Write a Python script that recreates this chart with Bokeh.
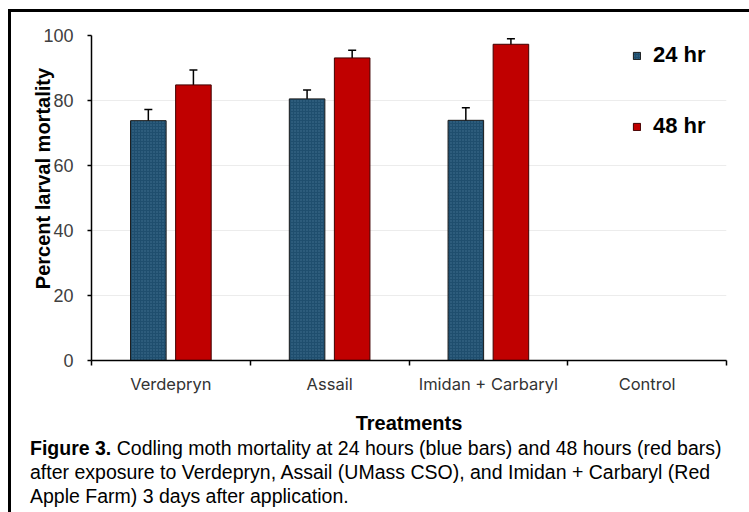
from bokeh.plotting import figure
from bokeh.layouts import column
from bokeh.models import (ColumnDataSource, FactorRange, Range1d, Whisker, TeeHead,
                          Legend, LegendItem, LinearAxis, CategoricalAxis, FixedTicker, Div)
from bokeh.transform import dodge
from bokeh.embed import file_html
from bokeh.resources import INLINE

# ---------------- data ----------------
treatments = ["Verdepryn", "Assail", "Imidan + Carbaryl", "Control"]
mort_24 = [73.8, 80.5, 73.9, None]
err_24 = [3.4, 2.7, 3.9, None]
mort_48 = [84.8, 93.1, 97.3, None]
err_48 = [4.6, 2.4, 1.7, None]
y_ticks = [0, 20, 40, 60, 80, 100]
boundary_ticks = [0, 1, 2, 3, 4]
series_labels = ["24 hr", "48 hr"]
y_title = "Percent larval  mortality"
x_title = "Treatments"
caption_bold = "Figure 3."
caption_lines = [
    " Codling moth mortality at 24 hours (blue bars) and 48 hours (red bars)",
    "after exposure to Verdepryn, Assail (UMass CSO), and Imidan + Carbaryl (Red",
    "Apple Farm) 3 days after application.",
]

BLUE = "#1f4e6e"
RED = "#c00000"
FONT = "Liberation Sans"

idx = [i for i, v in enumerate(mort_24) if v is not None]
src = ColumnDataSource(dict(
    cat=[treatments[i] for i in idx],
    m24=[mort_24[i] for i in idx],
    lo24=[mort_24[i] - err_24[i] for i in idx],
    hi24=[mort_24[i] + err_24[i] for i in idx],
    m48=[mort_48[i] for i in idx],
    lo48=[mort_48[i] - err_48[i] for i in idx],
    hi48=[mort_48[i] + err_48[i] for i in idx],
))

W = 730
p = figure(x_range=FactorRange(*treatments), y_range=Range1d(0, 100),
           width=W, height=424, output_backend="svg", toolbar_location=None,
           x_axis_type=None, min_border_left=80, min_border_right=15,
           min_border_top=23, min_border_bottom=73)
p.outline_line_color = None

# y axis
ya = p.yaxis[0]
ya.ticker = FixedTicker(ticks=y_ticks)
ya.axis_line_width = 1.5
ya.axis_line_color = "black"
ya.major_tick_line_width = 1.5
ya.major_tick_in = 0
ya.major_tick_out = 4
ya.minor_tick_line_color = None
ya.major_label_standoff = 14
ya.major_label_text_font = FONT
ya.major_label_text_font_size = "18px"
ya.major_label_text_color = "#404040"
ya.axis_label = "\u00a0" * 8 + y_title
ya.axis_label_standoff = -14
ya.axis_label_text_font = FONT
ya.axis_label_text_font_style = "bold"
ya.axis_label_text_font_size = "20px"
ya.axis_label_text_color = "black"
p.ygrid.ticker = FixedTicker(ticks=y_ticks)
p.ygrid.grid_line_color = "#ececec"

# bottom: boundary tick axis (no labels) + category label axis
ax_ticks = LinearAxis(ticker=FixedTicker(ticks=boundary_ticks),
                      major_label_text_color=None, major_label_text_font_size="1px",
                      major_label_standoff=0,
                      major_tick_in=0, major_tick_out=5, major_tick_line_width=1.5,
                      minor_tick_line_color=None, axis_line_width=1.5,
                      axis_line_color="black")
p.add_layout(ax_ticks, "below")
ax_cats = CategoricalAxis(axis_line_color=None, major_tick_line_color=None,
                          minor_tick_line_color=None, major_label_standoff=2,
                          major_label_text_font="Inter",
                          major_label_text_font_size="16.5px",
                          major_label_text_color="#333333",
                          axis_label=x_title, axis_label_standoff=15,
                          axis_label_text_font=FONT,
                          axis_label_text_font_style="bold",
                          axis_label_text_font_size="20px",
                          axis_label_text_color="black")
p.add_layout(ax_cats, "below")

# bars
off = 0.142
w = 0.224
r24 = p.vbar(x=dodge("cat", -off, range=p.x_range), top="m24", width=w, source=src,
             fill_color=BLUE, line_color="#1a1a1a", line_width=1,
             hatch_pattern=".", hatch_color="#6f9bb8", hatch_scale=3,
             hatch_alpha=0.45)
r48 = p.vbar(x=dodge("cat", off, range=p.x_range), top="m48", width=w, source=src,
             fill_color=RED, line_color="#400000", line_width=1)

for d, lo, hi in [(-off, "lo24", "hi24"), (off, "lo48", "hi48")]:
    wk = Whisker(source=src, base=dodge("cat", d, range=p.x_range), lower=lo, upper=hi,
                 line_color="black", line_width=1.5,
                 upper_head=TeeHead(size=8, line_width=1.5, line_color="black"),
                 lower_head=TeeHead(size=8, line_width=1.5, line_color="black"))
    p.add_layout(wk)

legend = Legend(items=[LegendItem(label=series_labels[0], renderers=[r24]),
                       LegendItem(label=series_labels[1], renderers=[r48])],
                location="top_right", margin=7, padding=8, spacing=45,
                glyph_width=9, glyph_height=9, label_standoff=12,
                label_width=66, label_height=25,
                label_text_font=FONT, label_text_font_style="bold",
                label_text_font_size="22px", label_text_color="black",
                border_line_color=None, background_fill_alpha=0)
p.add_layout(legend)

# caption
caption_html = (
    "<div style=\"font-family:'Liberation Sans',Arial,sans-serif;font-size:19.5px;"
    "line-height:24px;white-space:nowrap;color:black;padding-left:14px;"
    "margin-top:-5px;\">"
    f"<b>{caption_bold}</b>{caption_lines[0]}<br>{caption_lines[1]}<br>{caption_lines[2]}"
    "</div>"
)
cap = Div(text=caption_html, width=W, height=76)

layout = column(p, cap, spacing=0)
layout.styles = {"margin-left": "8px", "margin-top": "9px",
                 "border-top": "3px solid black", "border-left": "3px solid black",
                 "border-right": "3px solid black"}

open("out.html", "w").write(file_html(layout, INLINE))
